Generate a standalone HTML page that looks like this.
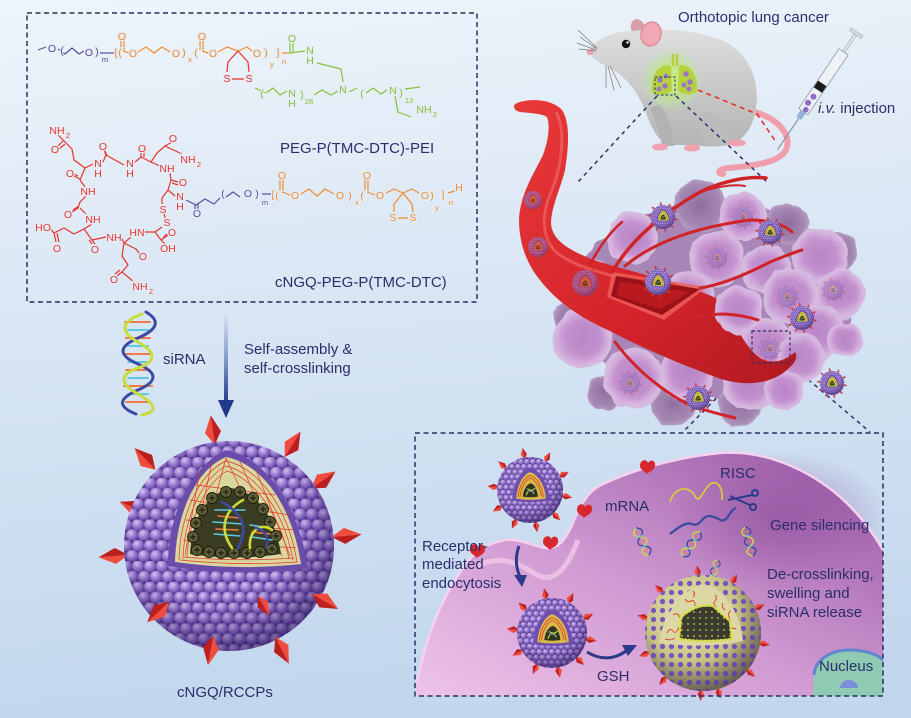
<!DOCTYPE html>
<html><head><meta charset="utf-8"><style>
html,body{margin:0;padding:0;width:911px;height:718px;overflow:hidden;background:#dde8f4}
svg{display:block}
text{font-family:"Liberation Sans",Arial,sans-serif}
.lb{font-size:15px;fill:#2b2e6a}
.ch{font-size:10.5px;paint-order:stroke;stroke:#e4ecf6;stroke-width:2.5px;text-anchor:middle}
.sb{font-size:7.5px;paint-order:stroke;stroke:#e4ecf6;stroke-width:2px;text-anchor:middle}
.P{fill:#5a4b9f}.O{fill:#f08c30}.R{fill:#e5342e}.G{fill:#86c23c}
</style></head><body>
<svg width="911" height="718" viewBox="0 0 911 718" xmlns="http://www.w3.org/2000/svg">
<defs>
 <linearGradient id="bg" x1="0" y1="0" x2="0.12" y2="1">
  <stop offset="0" stop-color="#eef4fb"/><stop offset="0.45" stop-color="#d9e6f4"/><stop offset="1" stop-color="#c2d7ed"/>
 </linearGradient>
 <radialGradient id="bd" cx="0.38" cy="0.32" r="0.72">
  <stop offset="0" stop-color="#d8c8f3"/><stop offset="0.5" stop-color="#9c7ed3"/><stop offset="1" stop-color="#6546a4"/>
 </radialGradient>
 <pattern id="beadL" width="12" height="20.78" patternUnits="userSpaceOnUse">
  <rect width="12" height="20.78" fill="#55388f"/>
  <circle cx="6" cy="5.2" r="6" fill="url(#bd)"/>
  <circle cx="0" cy="15.59" r="6" fill="url(#bd)"/>
  <circle cx="12" cy="15.59" r="6" fill="url(#bd)"/>
 </pattern>
 <pattern id="beadS" width="9" height="15.59" patternUnits="userSpaceOnUse">
  <rect width="9" height="15.59" fill="#55388f"/>
  <circle cx="4.5" cy="3.9" r="4.5" fill="url(#bd)"/>
  <circle cx="0" cy="11.69" r="4.5" fill="url(#bd)"/>
  <circle cx="9" cy="11.69" r="4.5" fill="url(#bd)"/>
 </pattern>
 <radialGradient id="shade" cx="0.42" cy="0.36" r="0.64">
  <stop offset="0" stop-color="#ffffff" stop-opacity="0.12"/><stop offset="0.62" stop-color="#3a2070" stop-opacity="0"/><stop offset="1" stop-color="#22104f" stop-opacity="0.5"/>
 </radialGradient>
 <radialGradient id="khaki" cx="0.4" cy="0.35" r="0.7">
  <stop offset="0" stop-color="#f1eec6"/><stop offset="0.55" stop-color="#c9c585"/><stop offset="1" stop-color="#8c8850"/>
 </radialGradient>
 <pattern id="pdots" width="9" height="9" patternUnits="userSpaceOnUse">
  <circle cx="4.5" cy="4.5" r="2.6" fill="#7656be"/>
 </pattern>
 <pattern id="ydots" width="6" height="6" patternUnits="userSpaceOnUse">
  <circle cx="3" cy="3" r="0.9" fill="#c9d24a"/>
 </pattern>
 <radialGradient id="cellL" cx="0.5" cy="0.5" r="0.5">
  <stop offset="0" stop-color="#b784c5"/><stop offset="0.6" stop-color="#c391ce"/><stop offset="0.88" stop-color="#d6b4df"/><stop offset="1" stop-color="#d4bede"/>
 </radialGradient>
 <radialGradient id="cellD" cx="0.5" cy="0.5" r="0.5">
  <stop offset="0" stop-color="#8f6e9f"/><stop offset="0.8" stop-color="#a587b3"/><stop offset="1" stop-color="#b69fc4"/>
 </radialGradient>
 <filter id="wob" x="540" y="160" width="340" height="280" filterUnits="userSpaceOnUse">
  <feTurbulence type="fractalNoise" baseFrequency="0.06" numOctaves="2" seed="3"/>
  <feDisplacementMap in="SourceGraphic" scale="7" xChannelSelector="R" yChannelSelector="G"/>
 </filter>
 <linearGradient id="vessel" x1="0" y1="0" x2="1" y2="1">
  <stop offset="0" stop-color="#e8393a"/><stop offset="0.6" stop-color="#d3232a"/><stop offset="1" stop-color="#b01a20"/>
 </linearGradient>
 <linearGradient id="arrowG" x1="0" y1="0" x2="0" y2="1">
  <stop offset="0" stop-color="#dfe8f4"/><stop offset="0.5" stop-color="#8aa0cf"/><stop offset="1" stop-color="#223a8c"/>
 </linearGradient>
 <linearGradient id="cellG" x1="0" y1="1" x2="1" y2="0">
  <stop offset="0" stop-color="#eec4e8"/><stop offset="0.45" stop-color="#d09ad2"/><stop offset="1" stop-color="#9656a4"/>
 </linearGradient>
 <radialGradient id="cellDark" cx="0.5" cy="0.5" r="0.5">
  <stop offset="0" stop-color="#8a4898" stop-opacity="0.55"/><stop offset="1" stop-color="#8a4898" stop-opacity="0"/>
 </radialGradient>
 <linearGradient id="mouseG" x1="0" y1="0" x2="0" y2="1">
  <stop offset="0" stop-color="#dedede"/><stop offset="1" stop-color="#b4b4b4"/>
 </linearGradient>
 <radialGradient id="glow" cx="0.5" cy="0.5" r="0.5">
  <stop offset="0" stop-color="#c8f070" stop-opacity="0.95"/><stop offset="0.6" stop-color="#b8ec80" stop-opacity="0.6"/><stop offset="1" stop-color="#c0f0a0" stop-opacity="0"/>
 </radialGradient>
 <clipPath id="boxclip"><rect x="415" y="433" width="468" height="263"/></clipPath>
 <clipPath id="bigc"><circle cx="0" cy="0" r="58"/></clipPath>

 <g id="spk"><path d="M0,0 L13,-8 L30,0Z" fill="#f04c3d"/><path d="M0,0 L13,8 L30,0Z" fill="#bd1f1e"/></g>

 <g id="np">
  <use href="#spk" transform="rotate(-100) translate(47,0) scale(0.6)"/>
  <use href="#spk" transform="rotate(-62) translate(47,0) scale(0.6)"/>
  <use href="#spk" transform="rotate(-25) translate(47,0) scale(0.6)"/>
  <use href="#spk" transform="rotate(10) translate(47,0) scale(0.6)"/>
  <use href="#spk" transform="rotate(45) translate(47,0) scale(0.6)"/>
  <use href="#spk" transform="rotate(80) translate(47,0) scale(0.6)"/>
  <use href="#spk" transform="rotate(115) translate(47,0) scale(0.6)"/>
  <use href="#spk" transform="rotate(150) translate(47,0) scale(0.6)"/>
  <use href="#spk" transform="rotate(185) translate(47,0) scale(0.6)"/>
  <use href="#spk" transform="rotate(222) translate(47,0) scale(0.6)"/>
  <circle r="50" fill="url(#beadS)"/>
  <circle r="50" fill="url(#shade)"/>
  <path d="M-27,16 C-26,-10 -13,-31 0,-34 C15,-31 28,-10 30,16 Q0,21 -27,16Z" fill="#6e4eae"/>
  <path d="M-21,13 C-20,-7 -10,-24 0,-27 C12,-24 23,-7 24,13 Q0,17 -21,13Z" fill="currentColor"/>
  <path d="M-18,11 C-17,-5 -8,-20 0,-22 C10,-20 19,-5 20,11 M-15,10 C-14,-3 -6,-16 0,-18 C8,-16 16,-3 17,10" stroke="#e0402a" stroke-width="1.2" fill="none"/>
  <path d="M-11,10 C-10,0 -5,-9 1,-10 C7,-9 11,0 12,10 Q0,12 -11,10Z" fill="#2e3420"/>
  <path d="M-6,8 Q0,-6 6,6 M-4,-2 Q3,3 8,-3" stroke="#c8dc3c" stroke-width="1.6" fill="none"/>
  <path d="M-6,-3 Q1,6 7,2" stroke="#4a58b0" stroke-width="1.4" fill="none"/>
 </g>

 <g id="hx">
  <path d="M0,0 Q9,5 0,10 T0,20 T0,30" stroke="#3d4aa3" stroke-width="1.4" fill="none"/>
  <path d="M0,0 Q-9,5 0,10 T0,20 T0,30" stroke="#c8dc3c" stroke-width="1.4" fill="none"/>
  <path d="M-3,5 L3,5 M-3,15 L3,15 M-3,25 L3,25" stroke="#f07a4a" stroke-width="0.9"/>
  <path d="M-3,9 L3,9 M-3,20 L3,20" stroke="#5ac8e6" stroke-width="0.9"/>
 </g>
</defs>

<rect width="911" height="718" fill="url(#bg)"/>

<!-- ================= TOP-LEFT BOX: chemistry ================= -->
<rect x="27" y="13" width="450" height="289" fill="none" stroke="#2b2e63" stroke-width="1.5" stroke-dasharray="5 3.5"/>

<g fill="none" stroke-width="1.2" stroke-linejoin="round">
 <path d="M38,50 L46,47" stroke="#5a4b9f"/>
 <path d="M58,49 L65,54 L72,48 L79,54 L84,51" stroke="#5a4b9f"/>
 <path d="M100,53 L114,53" stroke="#5a4b9f"/>
 <path d="M121,41 L121,50 M124,41 L124,50 M123,51 L129,53" stroke="#f08c30"/>
 <path d="M138,52 L146,47 L154,53 L162,47 L170,52" stroke="#f08c30"/>
 <path d="M200,41 L200,50 M203,41 L203,50 M202,51 L208,53" stroke="#f08c30"/>
 <path d="M218,52 L227,47 L238,51 L247,47 L252,51" stroke="#f08c30"/>
 <path d="M282,53 L290,53" stroke="#f08c30"/>
 <path d="M238,51 L228,62 L227,72 M238,51 L248,62 L249,72 M232,79 L244,79" stroke="#e5342e"/>
 <path d="M290,43 L290,53 M293,43 L293,53 M290,53 L305,51" stroke="#86c23c"/>
 <path d="M317,63 L341,69 L343,82" stroke="#86c23c"/>
 <path d="M255,88 L265,93" stroke="#86c23c"/>
 <path d="M266,93 L273,88 L280,95 L287,91" stroke="#86c23c"/>
 <path d="M314,95 L322,90 L331,95 L338,91" stroke="#86c23c"/>
 <path d="M349,92 L357,88" stroke="#86c23c"/>
 <path d="M366,93 L373,88 L381,94 L387,90" stroke="#86c23c"/>
 <path d="M405,89 L420,87" stroke="#86c23c"/>
 <path d="M395,96 L398,112 L411,117" stroke="#86c23c"/>
</g>
<text class="ch P" x="52" y="52">O</text>
<text class="ch P" x="62" y="54" font-size="13">(</text>
<text class="ch P" x="89" y="56">O</text>
<text class="ch P" x="97" y="55" font-size="13">)</text>
<text class="sb P" x="105" y="62" font-size="9">m</text>
<text class="ch O" x="116" y="56" font-size="13">[</text>
<text class="ch O" x="120" y="56" font-size="13">(</text>
<text class="ch O" x="122" y="40">O</text>
<text class="ch O" x="133" y="57">O</text>
<text class="ch O" x="176" y="57">O</text>
<text class="ch O" x="184" y="56" font-size="13">)</text>
<text class="sb O" x="190" y="62" font-size="9">x</text>
<text class="ch O" x="196" y="56" font-size="13">(</text>
<text class="ch O" x="202" y="40">O</text>
<text class="ch O" x="213" y="57">O</text>
<text class="ch O" x="257" y="57">O</text>
<text class="ch O" x="266" y="56" font-size="13">)</text>
<text class="sb O" x="272" y="67" font-size="9">y</text>
<text class="ch O" x="278" y="56" font-size="13">]</text>
<text class="sb O" x="284" y="64" font-size="9">n</text>
<text class="ch R" x="227" y="82">S</text>
<text class="ch R" x="249" y="82">S</text>
<text class="ch G" x="292" y="42">O</text>
<text class="ch G" x="310" y="54">N</text>
<text class="ch G" x="310" y="64">H</text>
<text class="ch G" x="262" y="97" font-size="13">(</text>
<text class="ch G" x="292" y="97">N</text>
<text class="ch G" x="292" y="107">H</text>
<text class="ch G" x="302" y="98" font-size="13">)</text>
<text class="sb G" x="309" y="104">28</text>
<text class="ch G" x="343" y="93">N</text>
<text class="ch G" x="362" y="97" font-size="13">(</text>
<text class="ch G" x="393" y="94">N</text>
<text class="ch G" x="401" y="96" font-size="13">)</text>
<text class="sb G" x="409" y="103">13</text>
<text class="ch G" x="424" y="113">NH</text>
<text class="sb G" x="435" y="117">2</text>

<text class="lb" x="280" y="153" font-size="14.5">PEG-P(TMC-DTC)-PEI</text>

<g fill="none" stroke="#e5342e" stroke-width="1.2" stroke-linejoin="round">
 <path d="M58,135 L64,141 M58,146 L63,141 M59,149 L65,144 M64,141 L72,149 L74,160 L85,168"/>
 <path d="M85,168 L93,164 M85,168 L80,180 L85,187 M78,176 L72,173 M80,179 L74,176"/>
 <path d="M103,162 L106,155 L104,150 M107,156 L105,151 M106,155 L115,160 L124,165"/>
 <path d="M135,162 L141,157 L141,152 M144,157 L144,152 M141,157 L151,162 L157,153 L165,146 L172,142 M165,146 L182,154"/>
 <path d="M151,162 L162,167"/>
 <path d="M170,173 L171,180 L178,182 M172,183 L178,185 M171,180 L168,190 L175,196"/>
 <path d="M168,190 L162,198 L162,204 M164,213 L165,218 M162,227 L155,232 L142,232 M155,232 L161,240 L168,235 M161,240 L165,244 M163,238 L167,234"/>
 <path d="M86,196 L80,202 L78,208 L72,212 M79,206 L73,210 M80,208 L87,215"/>
 <path d="M92,224 L84,229 L74,234 L64,228 L54,233 L50,228 M54,233 L56,242 M57,233 L59,242 M84,229 L92,240 L95,244 M89,240 L92,244 M92,240 L106,237"/>
 <path d="M121,237 L124,243 L132,236 M124,243 L136,249 L139,253 M124,243 L122,256 L128,265 L122,272 L117,276 M122,272 L134,282 M120,270 L115,274"/>
</g>
<text class="ch R" x="57" y="134">NH</text><text class="sb R" x="68" y="138">2</text>
<text class="ch R" x="55" y="153">O</text>
<text class="ch R" x="103" y="150">O</text>
<text class="ch R" x="98" y="167">N</text><text class="ch R" x="98" y="177">H</text>
<text class="ch R" x="142" y="152">O</text>
<text class="ch R" x="130" y="167">N</text><text class="ch R" x="130" y="177">H</text>
<text class="ch R" x="173" y="142">O</text>
<text class="ch R" x="188" y="163">NH</text><text class="sb R" x="199" y="167">2</text>
<text class="ch R" x="167" y="172">NH</text>
<text class="ch R" x="183" y="186">O</text>
<text class="ch R" x="70" y="177">O</text>
<text class="ch R" x="88" y="195">NH</text>
<text class="ch R" x="180" y="200">N</text><text class="ch R" x="180" y="210">H</text>
<text class="ch R" x="163" y="213">S</text>
<text class="ch R" x="167" y="226">S</text>
<text class="ch R" x="68" y="218">O</text>
<text class="ch R" x="93" y="223">NH</text>
<text class="ch R" x="43" y="231">HO</text>
<text class="ch R" x="57" y="252">O</text>
<text class="ch R" x="95" y="253">O</text>
<text class="ch R" x="114" y="241">NH</text>
<text class="ch R" x="137" y="236">HN</text>
<text class="ch R" x="172" y="236">O</text>
<text class="ch R" x="168" y="252">OH</text>
<text class="ch R" x="143" y="260">O</text>
<text class="ch R" x="114" y="283">O</text>
<text class="ch R" x="140" y="290">NH</text><text class="sb R" x="151" y="294">2</text>

<g fill="none" stroke-width="1.2" stroke-linejoin="round">
 <path d="M186,200 L196,205 L205,199 L214,204 L220,198 M195,205 L195,209 M198,204 L198,209" stroke="#5a4b9f"/>
 <path d="M226,197 L233,192 L240,197" stroke="#5a4b9f"/>
 <path d="M262,194 L272,194" stroke="#5a4b9f"/>
 <path d="M280,180 L280,191 M283,180 L283,191 M282,192 L290,195" stroke="#f08c30"/>
 <path d="M301,194 L309,189 L317,196 L325,189 L334,194" stroke="#f08c30"/>
 <path d="M365,180 L365,191 M368,180 L368,191 M367,192 L375,195" stroke="#f08c30"/>
 <path d="M386,193 L394,189 L403,193 L412,189 L419,193" stroke="#f08c30"/>
 <path d="M448,193 L455,191" stroke="#f08c30"/>
 <path d="M403,193 L394,204 L394,212 M403,193 L412,204 L413,212 M398,218 L408,218" stroke="#f08c30"/>
</g>
<text class="ch P" x="197" y="217">O</text>
<text class="ch P" x="223" y="197" font-size="13">(</text>
<text class="ch P" x="248" y="197">O</text>
<text class="ch P" x="257" y="197" font-size="13">)</text>
<text class="sb P" x="265" y="205" font-size="9">m</text>
<text class="ch O" x="273" y="198" font-size="13">[</text>
<text class="ch O" x="277" y="199" font-size="13">(</text>
<text class="ch O" x="282" y="179">O</text>
<text class="ch O" x="295" y="199">O</text>
<text class="ch O" x="340" y="199">O</text>
<text class="ch O" x="350" y="199" font-size="13">)</text>
<text class="sb O" x="357" y="205" font-size="9">x</text>
<text class="ch O" x="362" y="199" font-size="13">(</text>
<text class="ch O" x="367" y="179">O</text>
<text class="ch O" x="380" y="199">O</text>
<text class="ch O" x="425" y="199">O</text>
<text class="ch O" x="432" y="199" font-size="13">)</text>
<text class="sb O" x="437" y="210" font-size="9">y</text>
<text class="ch O" x="443" y="198" font-size="13">]</text>
<text class="sb O" x="451" y="205" font-size="9">n</text>
<text class="ch O" x="459" y="191">H</text>
<text class="ch O" x="393" y="221">S</text>
<text class="ch O" x="413" y="221">S</text>

<text class="lb" x="275" y="287" font-size="14.5">cNGQ-PEG-P(TMC-DTC)</text>

<!-- ================= siRNA + arrow ================= -->
<g fill="none" stroke-linecap="round">
 <path d="M125,322 L150,322 M126,338 L150,338 M124,354 L152,354 M126,370 L150,370 M124,386 L152,386 M126,402 L150,402" stroke="#f07a4a" stroke-width="2"/>
 <path d="M128,330 L148,330 M128,346 L148,346 M128,362 L148,362 M128,378 L148,378 M128,394 L148,394" stroke="#5ac8e6" stroke-width="2"/>
 <path d="M146,312 Q168,325 138,338 T138,364 T138,390 T136,414" stroke="#3d4aa3" stroke-width="3"/>
 <path d="M142,314 Q110,326 138,342 T138,368 T138,394 T142,415" stroke="#c9dc3a" stroke-width="3"/>
</g>
<text class="lb" x="163" y="364" font-size="15.5">siRNA</text>

<rect x="224" y="310" width="4" height="92" fill="url(#arrowG)"/>
<path d="M218,400 L234,400 L226,418 Z" fill="#223a8c"/>
<text class="lb" x="244" y="354" font-size="15.5">Self-assembly &amp;</text>
<text class="lb" x="244" y="373" font-size="15.5">self-crosslinking</text>

<!-- ================= MAIN NANOPARTICLE ================= -->
<g transform="translate(229,546)">
 <use href="#spk" transform="rotate(-98) translate(102,0)"/>
 <use href="#spk" transform="rotate(-58) translate(105,0)"/>
 <use href="#spk" transform="rotate(-35) translate(100,0)"/>
 <use href="#spk" transform="rotate(-5) translate(103,0)"/>
 <use href="#spk" transform="rotate(175) translate(101,0)"/>
 <use href="#spk" transform="rotate(-158) translate(88,0)"/>
 <use href="#spk" transform="rotate(-134) translate(106,0)"/>
</g>
<circle cx="229" cy="546" r="105" fill="url(#beadL)"/>
<circle cx="229" cy="546" r="105" fill="url(#shade)"/>
<g transform="translate(229,546)">
 <use href="#spk" transform="rotate(30) translate(96,0)"/>
 <use href="#spk" transform="rotate(63) translate(102,0)"/>
 <use href="#spk" transform="rotate(100) translate(91,0)"/>
 <use href="#spk" transform="rotate(137) translate(82,0)"/>
 <use href="#spk" transform="rotate(60) translate(58,0) scale(0.75)"/>
</g>
<path d="M168,566 C168,512 192,466 226,450 C266,458 298,505 308,568 Q238,578 168,566 Z" fill="#6a4caa"/>
<path d="M175,562 C176,515 195,470 226,457 C262,464 292,505 301,564 Q238,571 175,562 Z" fill="#d9d69e"/>
<g fill="none" stroke="#e3352b" stroke-width="0.7">
 <path d="M179,560 C180,517 198,474 226,461 C259,468 288,508 297,562"/>
 <path d="M183,559 C184,520 201,479 226,466 C256,473 284,511 293,560"/>
 <path d="M187,558 C188,523 204,484 227,471 C253,478 280,514 289,559"/>
 <path d="M180,560 Q238,566 298,562 M184,557 Q238,562 294,558"/>
 <path d="M200,470 L185,555 M212,462 L192,555 M240,462 L282,556 M256,470 L290,556 M226,458 L200,553 M226,458 L270,553 M190,500 L290,515 M186,520 L294,530 M196,485 L275,495 M183,540 L296,548"/>
</g>
<path d="M190,554 C192,520 205,495 230,488 C255,490 275,515 281,554 Q235,561 190,554 Z" fill="#3b3d22"/>
<g fill="#5d5e34" stroke="#1a1a10" stroke-width="0.9">
 <circle cx="197" cy="550" r="5.5"/><circle cx="209" cy="552" r="5.5"/><circle cx="221" cy="553" r="5.5"/><circle cx="234" cy="553" r="5.5"/><circle cx="247" cy="553" r="5.5"/><circle cx="260" cy="552" r="5.5"/><circle cx="272" cy="549" r="5.5"/>
 <circle cx="193" cy="537" r="5.5"/><circle cx="196" cy="523" r="5.5"/><circle cx="202" cy="510" r="5.5"/><circle cx="212" cy="498" r="5.5"/><circle cx="226" cy="492" r="5.5"/><circle cx="240" cy="492" r="5.5"/><circle cx="253" cy="498" r="5.5"/><circle cx="263" cy="509" r="5.5"/><circle cx="270" cy="522" r="5.5"/><circle cx="276" cy="536" r="5.5"/>
</g>
<g stroke="#111" stroke-width="0.9">
 <path d="M194,550 h6 M197,547 v6 M206,552 h6 M209,549 v6 M218,553 h6 M221,550 v6 M231,553 h6 M234,550 v6 M244,553 h6 M247,550 v6 M257,552 h6 M260,549 v6 M269,549 h6 M272,546 v6"/>
 <path d="M190,537 h6 M193,534 v6 M193,523 h6 M196,520 v6 M199,510 h6 M202,507 v6 M209,498 h6 M212,495 v6 M223,492 h6 M226,489 v6 M237,492 h6 M240,489 v6 M250,498 h6 M253,495 v6 M260,509 h6 M263,506 v6 M267,522 h6 M270,519 v6 M273,536 h6 M276,533 v6"/>
</g>
<g fill="none" stroke-linecap="round">
 <path d="M215,510 L245,510 M213,522 L243,524 M214,534 L240,536 M250,525 L270,528 M252,537 L272,540" stroke="#5ac8e6" stroke-width="1.6"/>
 <path d="M218,516 L240,518 M216,529 L238,530 M252,532 L270,534" stroke="#f07a4a" stroke-width="1.6"/>
 <path d="M243,500 C225,510 218,528 232,548" stroke="#c9dc3a" stroke-width="2.6"/>
 <path d="M222,502 C245,515 248,530 238,548" stroke="#3d4aa3" stroke-width="2.6"/>
 <path d="M250,548 C248,530 262,522 272,530" stroke="#c9dc3a" stroke-width="2.6"/>
 <path d="M256,528 C266,530 270,540 266,548" stroke="#3d4aa3" stroke-width="2.4"/>
</g>
<text class="lb" x="177" y="697" font-size="15.5">cNGQ/RCCPs</text>

<!-- ================= MOUSE ================= -->
<text class="lb" x="678" y="22" font-size="14.5">Orthotopic lung cancer</text>
<path d="M745,110 C775,115 793,133 786,150 C779,163 752,166 728,168 C719,169 716,173 723,174" fill="none" stroke="#ef9eaa" stroke-width="6" stroke-linecap="round"/>
<ellipse cx="638" cy="28" rx="7" ry="9" fill="#d9a0ac" transform="rotate(-20 638 28)"/>
<path d="M589,50 C597,39 613,31 632,31 C660,27 700,30 726,42 C750,55 760,82 756,108 C753,128 744,141 728,145 C718,147 705,147 695,145 L668,145 C657,140 650,125 645,110 C638,92 626,77 610,68 C600,63 590,58 589,50 Z" fill="url(#mouseG)"/>
<path d="M650,108 C656,122 661,136 662,146 L674,146 C672,130 668,116 660,104 Z" fill="#b2b2b2"/>
<path d="M705,112 C720,112 732,125 730,145 L708,146 C700,135 698,120 705,112Z" fill="#bcbcbc"/>
<ellipse cx="651" cy="34" rx="10" ry="12" fill="#f2a8b4" stroke="#e28c9b" stroke-width="1.5" transform="rotate(15 651 34)"/>
<circle cx="626" cy="44" r="4.2" fill="#111"/><circle cx="627.5" cy="42.5" r="1.2" fill="#fff"/>
<ellipse cx="590" cy="52" rx="3.5" ry="3" fill="#f2a0ae"/>
<g stroke="#7a7a7a" stroke-width="0.7" fill="none">
 <path d="M597,48 L578,30 M597,49 L580,37 M596,50 L577,43 M596,51 L579,49"/>
 <path d="M606,66 L606,88 M608,66 L614,90 M610,66 L621,88"/>
</g>
<ellipse cx="660" cy="147" rx="8" ry="3.5" fill="#f2a2ae"/>
<ellipse cx="692" cy="148" rx="8" ry="3.5" fill="#f2a2ae"/>
<ellipse cx="737" cy="143" rx="9" ry="3.5" fill="#f2a2ae"/>
<circle cx="672" cy="80" r="32" fill="url(#glow)"/>
<path d="M673,54 L673,66 M677,54 L677,66" stroke="#b6cf3c" stroke-width="2.5"/>
<path d="M671,66 C660,62 650,75 652,92 C660,96 668,95 672,90 Z" fill="#b8d23e"/>
<path d="M679,66 C690,62 698,75 697,92 C690,96 682,95 678,90 Z" fill="#b8d23e"/>
<g fill="#9a76c8"><circle cx="660" cy="80" r="2.8"/><circle cx="665" cy="86" r="2.8"/><circle cx="659" cy="89" r="2.5"/><circle cx="666" cy="76" r="2.5"/><circle cx="686" cy="74" r="2.8"/><circle cx="690" cy="82" r="2.8"/><circle cx="684" cy="85" r="2.5"/><circle cx="689" cy="89" r="2.5"/></g>
<rect x="655" y="77" width="20" height="18" fill="none" stroke="#2b2e63" stroke-width="1" stroke-dasharray="2.5 2"/>
<path d="M698,90 L757,114 L776,142" fill="none" stroke="#e8302a" stroke-width="1.6" stroke-dasharray="5 4"/>
<g transform="translate(857,32) rotate(124)">
 <rect x="0" y="-7" width="3" height="14" fill="#d8dde2" stroke="#9aa3ab" stroke-width="0.6"/>
 <rect x="3" y="-1.5" width="26" height="3" fill="#dfe3e7" stroke="#9aa3ab" stroke-width="0.5"/>
 <rect x="24" y="-5.5" width="72" height="11" fill="#eef2f6" stroke="#8d98a4" stroke-width="0.8"/>
 <rect x="62" y="-5" width="8" height="10" fill="#1c1c1c"/>
 <circle cx="78" cy="0" r="3" fill="#8e6cc4"/><circle cx="86" cy="1" r="3" fill="#8e6cc4"/><circle cx="93" cy="-1" r="2.8" fill="#8e6cc4"/>
 <rect x="96" y="-3" width="8" height="6" fill="#8fb4d8"/>
 <path d="M104,0 L142,0" stroke="#8a939c" stroke-width="1.2"/>
</g>
<text class="lb" x="818" y="113" font-size="15"><tspan font-style="italic">i.v.</tspan> injection</text>

<g stroke="#2b3270" stroke-width="1.5" stroke-dasharray="4 4" fill="none">
 <path d="M657,96 L578,182"/>
 <path d="M676,96 L768,183"/>
 <path d="M750,364 L683,432"/>
 <path d="M790,364 L870,432"/>
</g>

<!-- ================= TUMOR ================= -->
<g filter="url(#wob)">
 <ellipse cx="712" cy="300" rx="140" ry="98" fill="#a886b8"/>
 <circle cx="700" cy="206" r="26" fill="url(#cellD)"/>
 <circle cx="787" cy="224" r="22" fill="url(#cellD)"/>
 <circle cx="838" cy="252" r="20" fill="url(#cellD)"/>
 <circle cx="673" cy="404" r="22" fill="url(#cellD)"/>
 <circle cx="740" cy="404" r="22" fill="url(#cellD)"/>
 <circle cx="605" cy="392" r="18" fill="url(#cellD)"/>
 <circle cx="568" cy="318" r="16" fill="url(#cellD)"/>
 <circle cx="633" cy="238" r="26" fill="url(#cellL)"/>
 <circle cx="743" cy="216" r="24" fill="url(#cellL)"/>
 <circle cx="593" cy="283" r="25" fill="url(#cellL)"/>
 <circle cx="717" cy="259" r="28" fill="url(#cellL)"/>
 <circle cx="820" cy="256" r="28" fill="url(#cellL)"/>
 <circle cx="767" cy="270" r="25" fill="url(#cellL)"/>
 <circle cx="687" cy="299" r="28" fill="url(#cellL)"/>
 <circle cx="840" cy="294" r="25" fill="url(#cellL)"/>
 <circle cx="790" cy="296" r="28" fill="url(#cellL)"/>
 <circle cx="583" cy="338" r="30" fill="url(#cellL)"/>
 <circle cx="713" cy="338" r="30" fill="url(#cellL)"/>
 <circle cx="817" cy="331" r="27" fill="url(#cellL)"/>
 <circle cx="767" cy="346" r="28" fill="url(#cellL)"/>
 <circle cx="633" cy="378" r="30" fill="url(#cellL)"/>
 <circle cx="687" cy="372" r="28" fill="url(#cellL)"/>
 <circle cx="750" cy="383" r="28" fill="url(#cellL)"/>
 <circle cx="800" cy="358" r="25" fill="url(#cellL)"/>
 <circle cx="784" cy="390" r="20" fill="url(#cellL)"/>
 <circle cx="845" cy="340" r="18" fill="url(#cellL)"/>
</g>
<g opacity="0.35">
 <use href="#np" transform="translate(743,217) scale(0.2)" color="#d8a060"/>
 <use href="#np" transform="translate(717,258) scale(0.2)" color="#d8a060"/>
 <use href="#np" transform="translate(787,297) scale(0.2)" color="#d8a060"/>
 <use href="#np" transform="translate(833,290) scale(0.2)" color="#d8d060"/>
 <use href="#np" transform="translate(717,337) scale(0.2)" color="#d8a060"/>
 <use href="#np" transform="translate(770,349) scale(0.2)" color="#d8a060"/>
 <use href="#np" transform="translate(630,383) scale(0.2)" color="#d8a060"/>
</g>
<!-- blood vessel -->
<path d="M517,103 C530,98 552,99 562,110 C570,122 569,145 565,170 C560,190 552,205 551,222 C551,238 565,250 600,262 C640,274 690,285 720,300 C735,320 742,345 760,358 C772,365 785,361 795,352 C798,357 795,363 790,367 C775,383 748,388 718,378 C680,364 640,347 610,331 C580,318 555,300 540,280 C525,262 519,240 519,220 C520,195 533,175 543,155 C549,138 550,125 547,117 C540,113 528,113 520,112 C513,110 512,105 517,103 Z" fill="url(#vessel)"/>
<path d="M556,112 C566,130 562,165 552,190 C542,212 540,236 556,252 C575,268 610,275 640,283" fill="none" stroke="#f47a78" stroke-width="3" opacity="0.5"/>
<path d="M612,272 L707,287 L664,320 L607,297 Z" fill="#f0605a" opacity="0.8"/>
<path d="M616,276 L700,289 L662,315 L611,296 Z" fill="#9a1218"/>
<path d="M620,282 L690,292 L660,309 L616,295 Z" fill="#b81a20"/>
<!-- front cell covering vessel -->
<g filter="url(#wob)">
 <circle cx="738" cy="310" r="24" fill="url(#cellL)"/>
</g>
<g fill="none" stroke="#cf2328" stroke-linecap="round">
 <path d="M612,272 C625,250 648,222 700,192 C725,180 750,176 766,178" stroke-width="3.5"/>
 <path d="M625,266 C650,245 690,228 750,220 C770,220 785,225 792,232" stroke-width="3"/>
 <path d="M700,288 C720,285 745,275 770,262 C785,256 795,252 802,250" stroke-width="3"/>
 <path d="M655,338 C672,322 695,314 725,314 C740,315 752,318 758,320" stroke-width="3"/>
 <path d="M615,342 C630,362 650,382 680,400 C700,410 720,414 735,418" stroke-width="3"/>
 <path d="M590,264 C598,250 607,235 622,222" stroke-width="2.5"/>
 <path d="M700,192 C720,186 735,184 745,186" stroke-width="2"/>
</g>
<rect x="752" y="331" width="38" height="32" fill="none" stroke="#2b2e63" stroke-width="1.2" stroke-dasharray="3 2.5"/>
<g opacity="0.6">
 <use href="#np" transform="translate(533,200) scale(0.18)" color="#e08a40"/>
 <use href="#np" transform="translate(538,247) scale(0.2)" color="#e08a40"/>
 <use href="#np" transform="translate(585,283) scale(0.26)" color="#e08a40"/>
</g>
<use href="#np" transform="translate(663,217) scale(0.24)" color="#c9d840"/>
<use href="#np" transform="translate(770,232) scale(0.24)" color="#c9d840"/>
<use href="#np" transform="translate(658,282) scale(0.26)" color="#c9d840"/>
<use href="#np" transform="translate(802,318) scale(0.24)" color="#c9d840"/>
<use href="#np" transform="translate(832,383) scale(0.24)" color="#c9d840"/>
<use href="#np" transform="translate(698,398) scale(0.24)" color="#c9d840"/>

<!-- ================= BOTTOM-RIGHT BOX ================= -->
<g clip-path="url(#boxclip)">
 <path d="M415,696 L417,682 C425,640 440,600 465,565 C475,550 490,543 505,540 C518,538 530,545 545,548 C558,550 565,540 572,525 C580,505 588,490 605,483 C630,472 670,458 720,453 C750,451 775,458 800,470 C830,485 860,510 883,550 L883,696 Z" fill="url(#cellG)"/>
 <ellipse cx="780" cy="520" rx="110" ry="70" fill="url(#cellDark)"/>
 <path d="M417,682 C425,640 440,600 465,565 C475,550 490,543 505,540 C518,538 530,545 545,548 C558,550 565,540 572,525 C580,505 588,490 605,483 C630,472 670,458 720,453 C750,451 775,458 800,470 C830,485 860,510 883,550" fill="none" stroke="#f6d2ee" stroke-width="2.5"/>
 <path d="M478,566 C495,556 515,560 535,574 C552,584 566,572 578,540" fill="none" stroke="#f2cbe8" stroke-width="5" opacity="0.75"/>
 <path d="M813,696 L814,675 C815,660 830,650 850,650 C866,650 880,655 885,662 L885,696 Z" fill="#8fcab3"/>
 <path d="M814,675 C815,660 830,650 850,650 C866,650 880,655 885,662" fill="none" stroke="#5f86cf" stroke-width="3"/>
 <path d="M840,688 A9,8 0 0 1 858,688 Z" fill="#7b8fd8"/>
</g>
<g fill="#d8262e">
 <path d="M640,466 C640,459 647,459 648,463 C650,459 656,460 655,466 C654,471 648,472 647,474 C645,471 640,470 640,466Z"/>
 <path d="M577,510 C577,503 584,503 585,507 C587,503 593,504 592,510 C591,515 585,516 584,518 C582,515 577,514 577,510Z"/>
 <path d="M543,542 C543,535 550,535 551,539 C553,535 559,536 558,542 C557,547 551,548 550,550 C548,547 543,546 543,542Z"/>
 <path d="M470,550 C470,543 477,543 478,547 C480,543 486,544 485,550 C484,555 478,556 477,558 C475,555 470,554 470,550Z"/>
</g>
<path d="M670,502 C674,488 688,484 695,496 C700,506 704,486 712,483 C720,481 723,492 722,500" fill="none" stroke="#d8d232" stroke-width="1.6"/>
<path d="M670,534 C680,526 686,522 692,524 C700,528 702,515 710,516 C718,517 722,524 727,518 C731,512 733,509 736,508" fill="none" stroke="#3a4b9e" stroke-width="2.2"/>
<g stroke="#2b3a8a" stroke-width="2" fill="none">
 <path d="M728,500 L752,495 M730,496 L750,505"/>
 <circle cx="755" cy="493" r="3"/><circle cx="753" cy="507" r="3"/>
</g>
<use href="#hx" transform="translate(636,528) rotate(-25)"/>
<use href="#hx" transform="translate(700,532) rotate(35)"/>
<use href="#hx" transform="translate(745,527) rotate(-15)"/>
<use href="#hx" transform="translate(718,560) rotate(20) scale(0.8)"/>
<use href="#np" transform="translate(530,490) scale(0.66)" color="#d9b84a"/>
<use href="#np" transform="translate(552,633) scale(0.7)" color="#d9b84a"/>
<g transform="translate(703,633)">
 <use href="#spk" transform="rotate(-95) translate(56,0) scale(0.4)"/>
 <use href="#spk" transform="rotate(-60) translate(56,0) scale(0.4)"/>
 <use href="#spk" transform="rotate(-25) translate(56,0) scale(0.4)"/>
 <use href="#spk" transform="rotate(10) translate(56,0) scale(0.4)"/>
 <use href="#spk" transform="rotate(40) translate(56,0) scale(0.4)"/>
 <use href="#spk" transform="rotate(75) translate(56,0) scale(0.4)"/>
 <use href="#spk" transform="rotate(92) translate(56,0) scale(0.4)"/>
 <use href="#spk" transform="rotate(130) translate(56,0) scale(0.4)"/>
 <use href="#spk" transform="rotate(160) translate(56,0) scale(0.4)"/>
 <use href="#spk" transform="rotate(195) translate(56,0) scale(0.4)"/>
 <use href="#spk" transform="rotate(225) translate(56,0) scale(0.4)"/>
 <circle r="58" fill="url(#khaki)"/>
 <g clip-path="url(#bigc)"><rect x="-60" y="-60" width="120" height="120" fill="url(#pdots)"/></g>
 <circle r="58" fill="url(#shade)" opacity="0.7"/>
 <path d="M-44,10 C-40,-20 -18,-46 0,-49 C22,-45 37,-20 40,8 Q0,16 -44,10 Z" fill="#dcd8a6"/>
 <g fill="none" stroke="#e4472c" stroke-width="1">
  <path d="M-36,0 q3,-6 6,-2 t6,-4 M-30,-18 q4,-3 6,1 t5,-3 M-18,-34 q2,4 6,2 t4,5 M12,-38 q3,3 0,6 t2,7 M28,-22 q-4,2 -2,6 t-3,6 M33,-4 q-4,-2 -6,2 M-38,6 q6,2 10,-1 M30,5 q-5,-3 -9,0 M-10,-42 q3,3 0,6 M20,-30 q-2,4 2,7"/>
 </g>
 <path d="M-24,6 L-22,-16 Q-6,-30 10,-27 L27,-12 L29,6 Q2,10 -24,6Z" fill="#3b3b30"/>
 <path d="M-24,6 L-22,-16 Q-6,-30 10,-27 L27,-12 L29,6 Q2,10 -24,6Z" fill="url(#ydots)"/>
 <path d="M-24,6 L-22,-16 Q-6,-30 10,-27 L27,-12 L29,6 Q2,10 -24,6Z" fill="none" stroke="#d7df50" stroke-width="2.6" stroke-dasharray="1.5 2.5" stroke-linecap="round"/>
</g>
<path d="M519,546 C515,557 516,568 520,577" fill="none" stroke="#2b3a8a" stroke-width="3"/>
<path d="M514,575 L527,575 L522,587 Z" fill="#2b3a8a"/>
<path d="M587,652 C600,660 614,660 626,651" fill="none" stroke="#2b3a8a" stroke-width="3"/>
<path d="M622,645 L637,645 L628,656 Z" fill="#2b3a8a"/>

<rect x="415" y="433" width="468" height="263" fill="none" stroke="#2b2e63" stroke-width="1.5" stroke-dasharray="5 3.5"/>

<text class="lb" x="720" y="478">RISC</text>
<text class="lb" x="605" y="511">mRNA</text>
<text class="lb" x="770" y="530">Gene silencing</text>
<text class="lb" x="422" y="551">Receptor-</text>
<text class="lb" x="422" y="569">mediated</text>
<text class="lb" x="422" y="588">endocytosis</text>
<text class="lb" x="767" y="579">De-crosslinking,</text>
<text class="lb" x="767" y="598">swelling and</text>
<text class="lb" x="767" y="617">siRNA release</text>
<text class="lb" x="597" y="681">GSH</text>
<text class="lb" x="819" y="671">Nucleus</text>
</svg>
</body></html>
